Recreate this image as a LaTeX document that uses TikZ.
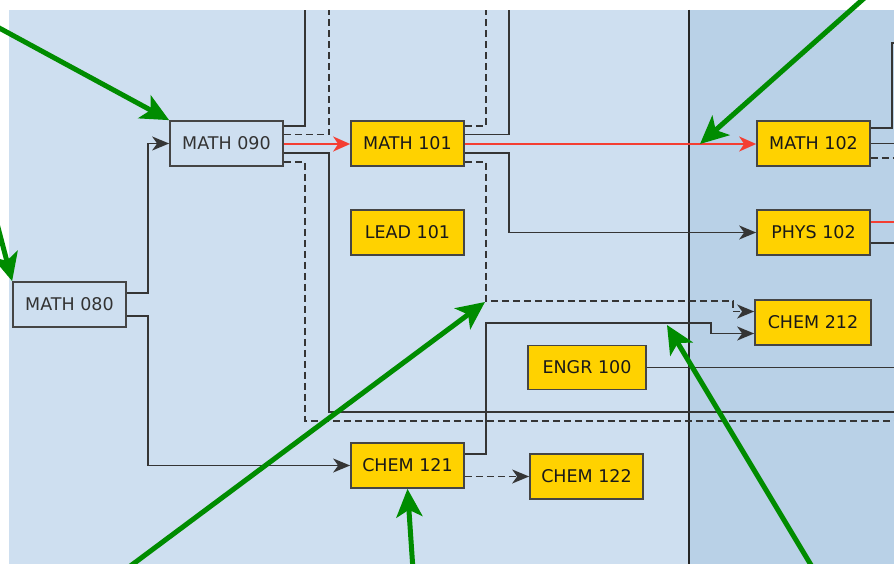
\documentclass[tikz,border=0pt]{standalone}
\usepackage{fontspec}
\setmainfont{DejaVu Sans}
\usetikzlibrary{arrows.meta}
\definecolor{bgA}{HTML}{CEDFF0}
\definecolor{bgB}{HTML}{B9D1E7}
\definecolor{gold}{HTML}{FFD200}
\definecolor{edgec}{HTML}{353535}
\definecolor{boxc}{HTML}{454545}
\definecolor{redl}{HTML}{F43E32}
\definecolor{grn}{HTML}{008C00}
\begin{document}
\begin{tikzpicture}[x=1pt,y=-1pt,
  course/.style={draw=boxc, line width=1.7pt, fill=gold, minimum width=113pt, minimum height=45pt,
    inner sep=0pt, font=\fontsize{17.5}{20}\selectfont, text=black!90},
  pre/.style={course, fill=bgA, text=black!80},
  link/.style={draw=edgec, line width=1.6pt},
  dlink/.style={link, dash pattern=on 7pt off 4pt},
  arr/.style={-{Stealth[length=17pt,width=14pt,inset=5pt]}},
  rlink/.style={draw=redl, line width=2pt, -{Stealth[length=17pt,width=15pt,inset=5pt]}},
  rline/.style={draw=redl, line width=1.5pt},
  callout/.style={draw=grn, line width=5pt, -{Stealth[length=28pt,width=26pt,inset=7pt]}}
]
\useasboundingbox (0,0) rectangle (894,564);
\clip (0,0) rectangle (894,564);
% backgrounds
\fill[white] (0,0) rectangle (894,564);
\fill[bgA] (9,10) rectangle (689,564);
\fill[bgB] (689,10) rectangle (894,564);
\draw[black!85, line width=1.6pt] (689,10) -- (689,564);

% nodes
\node[pre]    (m090) at (226.5,143.5) {MATH 090};
\node[pre]    (m080) at (69.5,304.5)  {MATH 080};
\node[course] (m101) at (407.5,143.5) {MATH 101};
\node[course] (l101) at (407.5,232.5) {LEAD 101};
\node[course] (m102) at (813.5,143.5) {MATH 102};
\node[course] (p102) at (813.5,232.5) {PHYS 102};
\node[course, minimum width=116pt] (c212) at (813,322.5) {CHEM 212};
\node[course, minimum width=118pt, minimum height=44pt] (e100) at (587,367.5) {ENGR 100};
\node[course] (c121) at (407.5,465.5) {CHEM 121};
\node[course] (c122) at (586.5,476.5) {CHEM 122};

% MATH 090 exits
\draw[link]  ([yshift=17.5pt]m090.east) -| (305,10);
\draw[dlink] ([yshift=9pt]m090.east) -| (329,10);
\draw[rlink] ([yshift=-0.5pt]m090.east) -- ([yshift=-0.5pt]m101.west);
\draw[link]  ([yshift=-9.5pt]m090.east) -| (329,412) -- (900,412);
\draw[dlink] ([yshift=-18.5pt]m090.east) -| (305,421) -- (900,421);

% MATH 080 exits
\draw[link,arr] ([yshift=11.5pt]m080.east) -| (148,143.5) -- (m090.west);
\draw[link,arr] ([yshift=-11.5pt]m080.east) -| (148,465.5) -- (c121.west);

% MATH 101 exits
\draw[dlink] ([yshift=17.5pt]m101.east) -| (486,10);
\draw[link]  ([yshift=9pt]m101.east) -| (509,10);
\draw[rlink] ([yshift=-0.5pt]m101.east) -- ([yshift=-0.5pt]m102.west);
\draw[link,arr] ([yshift=-9.5pt]m101.east) -| (509,232.5) -- (p102.west);
\draw[dlink,arr] ([yshift=-18.5pt]m101.east) -| (486,301) -| (733,311.5) -- ([yshift=11pt]c212.west);

% CHEM 121 exits
\draw[link,arr] ([yshift=11.5pt]c121.east) -| (486,323) -| (711,333.5) -- ([yshift=-11pt]c212.west);
\draw[dlink,arr] ([yshift=-11pt]c121.east) -- (c122.west);

% ENGR 100
\draw[link] (e100.east) -- (900,367.5);

% MATH 102 exits
\draw[link]  ([yshift=15.5pt]m102.east) -| (892,43) -- (900,43);
\draw[link]  (m102.east) -- (900,143.5);
\draw[dlink] ([yshift=-14.5pt]m102.east) -- (900,158);

% PHYS 102 exits
\draw[rline] ([yshift=10.5pt]p102.east) -- (900,222);
\draw[link]  ([yshift=-10.5pt]p102.east) -- (900,243);

% green callouts
\coordinate (g1) at (-10,23);
\coordinate (g2) at (-20,159);
\coordinate (g3) at (870,-7);
\coordinate (g4) at (125,570);
\coordinate (g5) at (413,570);
\coordinate (g6) at (814,570);
\draw[callout] (g1) -- (m090.north west);
\draw[callout] (g2) -- (m080.north west);
\draw[callout] (g3) -- (700,144);
\draw[callout] (g4) -- (485,302);
\draw[callout] (g5) -- (c121.south);
\draw[callout] (g6) -- (667,325);
\end{tikzpicture}
\end{document}
